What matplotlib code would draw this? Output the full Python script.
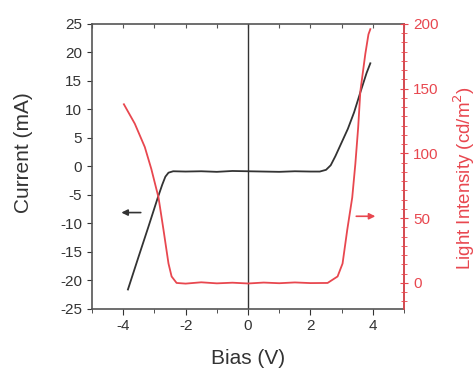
import matplotlib
matplotlib.use("Agg")
import matplotlib.pyplot as plt
from matplotlib.ticker import MultipleLocator, AutoMinorLocator

plt.rcParams['font.family'] = ['Liberation Sans', 'DejaVu Sans']
plt.rcParams['axes.unicode_minus'] = False

# current vs bias (black, left axis)
bias_i = [-3.85, -3.5, -3.2, -2.9, -2.75, -2.65, -2.55, -2.4, -2.0, -1.5, -1.0, -0.5,
          0.0, 0.5, 1.0, 1.5, 2.0, 2.3, 2.5, 2.65, 2.8, 3.0, 3.2, 3.4, 3.6, 3.8, 3.92]
current = [-21.6, -15.7, -10.7, -5.6, -3.2, -1.8, -1.1, -0.85, -0.9, -0.85, -0.95, -0.8,
           -0.85, -0.9, -0.95, -0.85, -0.9, -0.9, -0.6, 0.2, 1.8, 4.2, 6.6, 9.5, 13.0, 16.4, 18.1]

# light intensity vs bias (red, right axis)
bias_l = [-3.98, -3.63, -3.31, -3.1, -2.87, -2.71, -2.55, -2.45, -2.29, -2.0, -1.5, -1.0,
          -0.5, 0.0, 0.5, 1.0, 1.5, 2.0, 2.55, 2.87, 3.03, 3.18, 3.34, 3.44, 3.53, 3.6,
          3.76, 3.86, 3.92]
light = [138, 123, 105, 88, 66, 41, 15, 5, 0, -0.5, 0.5, -0.3,
         0.2, -0.4, 0.3, -0.2, 0.4, -0.1, 0, 5, 15, 41, 66, 92, 120, 148,
         177, 192, 196]

red = '#e8474f'
dark = '#333333'

fig, ax = plt.subplots(figsize=(4.77, 3.69), dpi=100)
fig.subplots_adjust(left=0.193, right=0.847, top=0.935, bottom=0.163)

ax.axvline(0, color=dark, lw=1.0, zorder=1)
ax.plot(bias_i, current, color=dark, lw=1.3, zorder=3)
ax.set_xlim(-5, 5)
ax.set_ylim(-25, 25)
ax.xaxis.set_major_locator(MultipleLocator(2))
ax.xaxis.set_minor_locator(MultipleLocator(1))
ax.yaxis.set_major_locator(MultipleLocator(5))
ax.tick_params(axis='both', which='both', direction='out', labelsize=11, colors=dark)
ax.tick_params(axis='x', which='both', length=4)
ax.tick_params(axis='x', which='minor', length=3)
for s in ax.spines.values():
    s.set_color('#555555')
    s.set_linewidth(1.2)
ax.set_xlabel('Bias (V)', fontsize=15, color=dark, labelpad=11)
ax.set_ylabel('Current (mA)', fontsize=15, color=dark)
ax.yaxis.set_label_coords(-0.19, 0.547)
ax.annotate('', xy=(-4.15, -8.1), xytext=(-3.35, -8.1),
            arrowprops=dict(arrowstyle='-|>', color=dark, lw=1.2, mutation_scale=9))

# inward ticks on the top spine at every volt
top = ax.secondary_xaxis('top')
top.xaxis.set_major_locator(MultipleLocator(1))
top.tick_params(direction='in', length=3, labeltop=False, colors='#555555')
top.spines['top'].set_visible(False)

ax2 = ax.twinx()
ax2.plot(bias_l, light, color=red, lw=1.3, zorder=3)
ax2.set_ylim(-20, 200)
ax2.yaxis.set_major_locator(MultipleLocator(50))
ax2.yaxis.set_minor_locator(AutoMinorLocator(7))
ax2.tick_params(axis='y', which='both', direction='inout', colors=red, labelsize=11)
ax2.tick_params(axis='y', which='major', length=6)
ax2.tick_params(axis='y', which='minor', length=4)
ax2.spines['right'].set_color(red)
ax2.spines['right'].set_linewidth(1.2)
for k in ('left', 'top', 'bottom'):
    ax2.spines[k].set_visible(False)
ax2.set_ylabel('Light Intensity (cd/m$^2$)', fontsize=13.5, color=red)
ax2.yaxis.set_label_coords(1.152, 0.46)
ax2.annotate('', xy=(4.17, 51.5), xytext=(3.38, 51.5),
             arrowprops=dict(arrowstyle='-|>', color=red, lw=1.2, mutation_scale=9))

plt.savefig('out.png', dpi=100)
